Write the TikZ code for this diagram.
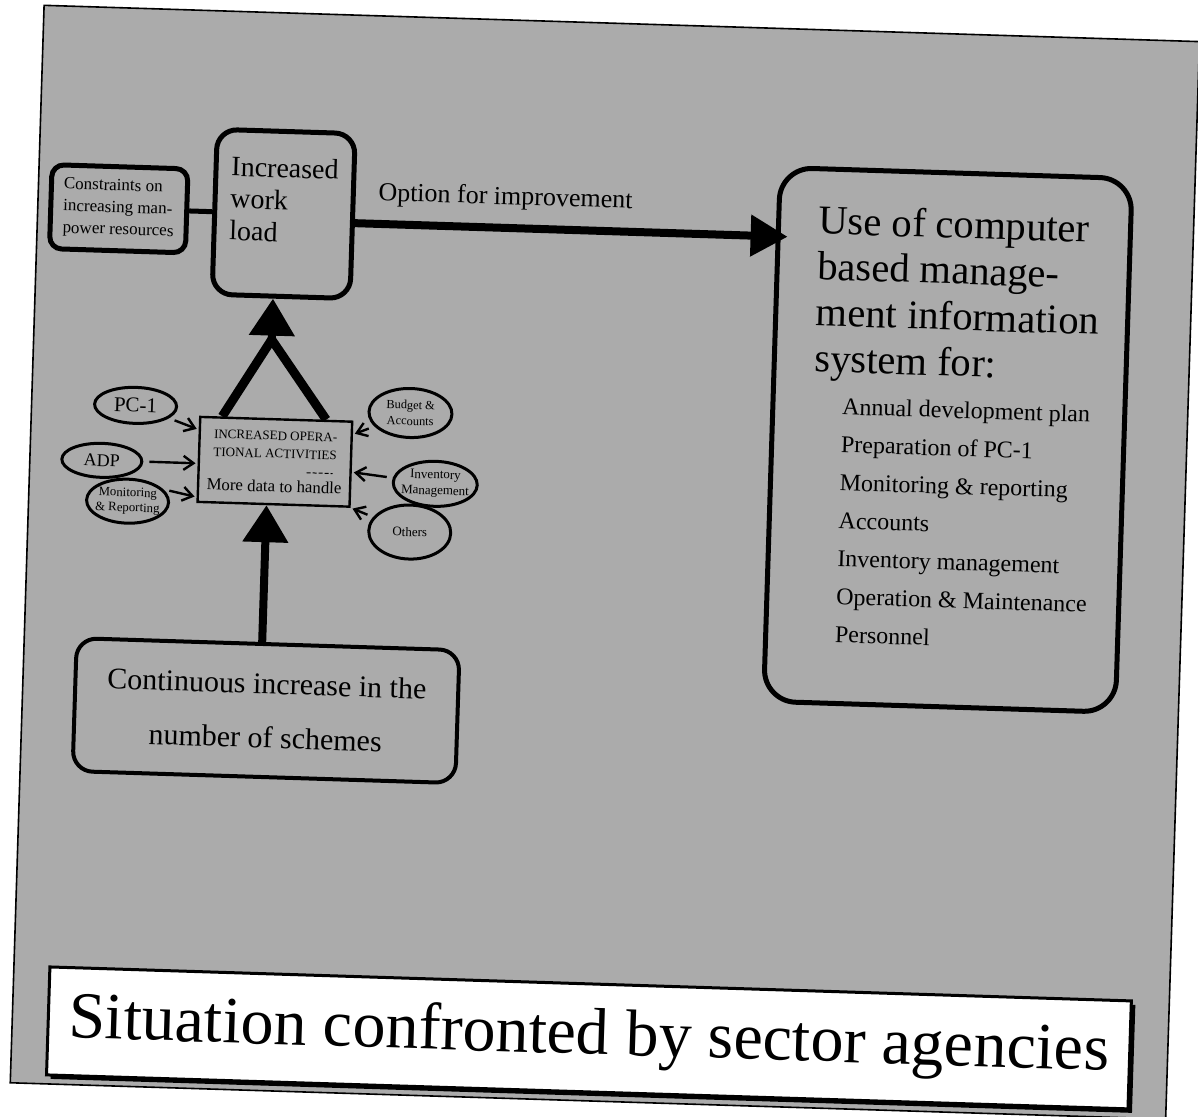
\documentclass[tikz,border=0pt]{standalone}
\usepackage{fontspec}
\setmainfont{Liberation Serif}
\usetikzlibrary{arrows.meta,shapes.geometric,shadows}

\begin{document}
\begin{tikzpicture}[x=0.5pt,y=-0.5pt,
  roundbox/.style={draw,line width=2.5pt,inner sep=0pt},
  oval/.style={draw,ellipse,line width=1.5pt,inner xsep=-3pt,inner ysep=0pt,align=center},
  feed/.style={line width=1.2pt,-{Straight Barb[length=5pt,width=7pt]},shorten <=3pt,shorten >=1pt},
  fat/.style={line width=4pt,-{Triangle[length=18.5pt,width=22pt]}},
  item/.style={anchor=base west,inner sep=0pt,font=\fontsize{12}{14}\selectfont}]
% Fix the page size
\useasboundingbox (0,0) rectangle (1198,1117);
\fill[white] (0,0) rectangle (1198,1117);
\begin{scope}[rotate around={-1.8:(599,558)},transform shape]
% Draw the shaded sheet
\draw[line width=0.8pt,fill=black!33] (27,23) rectangle (1183,1101);
% Draw the boxes at the top
\node[roundbox,minimum width=68pt,minimum height=42pt,rounded corners=6pt,align=left,font=\fontsize{8.5}{11}\selectfont] (cons) at (108,224) {Constraints on\\increasing man-\\power resources};
\node[roundbox,minimum width=69pt,minimum height=82.5pt,rounded corners=10pt,align=left,font=\fontsize{14}{16}\selectfont,text depth=14pt] (work) at (273,224) {Increased\\work\\load};
\draw[line width=2.5pt] (cons.east) -- (work.west);
% Draw the information system box
\node[roundbox,minimum width=176pt,minimum height=267pt,rounded corners=16pt] (info) at (944,429) {};
\node[anchor=north west,inner sep=0pt,align=left,font=\fontsize{20.3}{23}\selectfont] (head) at (808,198) {Use of computer\\based manage-\\ment information\\system for:};
\foreach \txt [count=\i] in {Annual development plan,Preparation of PC-1,Monitoring \& reporting,Accounts,Inventory management,Operation \& Maintenance,Personnel}
  \node[item] (use\i) at (837,{407+38*(\i-1)}) {\txt};
% Draw the improvement arrow
\draw[fat,-{Triangle[length=18.5pt,width=20pt]}] ([yshift=-3.5pt]work.east) -- ([yshift=-3.5pt,xshift=6pt]work.east -| info.west)
  node[pos=0,anchor=base west,xshift=6pt,yshift=11.7pt,font=\fontsize{13}{15}\selectfont] (opt) {Option for improvement};
% Draw the operations box
\node[draw,line width=1.2pt,minimum width=76pt,minimum height=42.5pt,inner sep=0pt,align=center,font=\fontsize{6.5}{9}\selectfont] (ops) at (272,472) {INCREASED OPERA-\\TIONAL ACTIVITIES\\[8pt]\fontsize{8.4}{10}\selectfont More data to handle};
\draw[line width=0.5pt,dash pattern=on 2pt off 1pt] (ops.center) ++(32,10) -- ++(26,0);
% Draw the inputs
\node[oval,minimum width=41pt,minimum height=18pt,font=\fontsize{10.5}{12}\selectfont] (pc) at (131,420) {PC-1};
\node[oval,minimum width=40pt,minimum height=17pt,font=\fontsize{9}{11}\selectfont] (adp) at (99,476) {ADP};
\node[oval,minimum width=41pt,minimum height=22pt,font=\fontsize{6.4}{7.5}\selectfont] (mon) at (126,516) {Monitoring\\\& Reporting};
\node[oval,minimum width=41.5pt,minimum height=24.5pt,font=\fontsize{6.2}{8}\selectfont] (bud) at (406,419) {Budget \&\\Accounts};
\node[oval,minimum width=42pt,minimum height=22.5pt,font=\fontsize{6.5}{8}\selectfont] (inv) at (433,489) {Inventory\\Management};
\node[oval,minimum width=41pt,minimum height=27pt,font=\fontsize{6.5}{8}\selectfont] (oth) at (409,538) {Others};
\draw[feed] (pc) -- ([yshift=-7pt]ops.north west);
\draw[feed] (adp) -- (adp -| ops.west);
\draw[feed] (mon.20) -- ([yshift=3pt]ops.south west);
\draw[feed] (bud) -- ([yshift=-7pt]ops.north east);
\draw[feed] (inv) -- ([yshift=-4pt]ops.east);
\draw[feed] (oth) -- (ops.south east);
% Draw the lower box and the thick arrows
\node[roundbox,line width=2pt,minimum width=191.5pt,minimum height=66.5pt,rounded corners=10pt,align=center,font=\fontsize{15}{27}\selectfont] (cont) at (271,721) {Continuous increase in the\\number of schemes};
\coordinate (meet) at (265,350);
\draw[fat] (cont.north -| meet) -- (ops.south -| meet);
\draw[line width=4.5pt,line join=round] ([xshift=-27pt]ops.north) -- (meet) -- ([xshift=25pt]ops.north);
\draw[fat] (meet) -- (meet |- work.south);
% Draw the title
\node[draw,fill=white,line width=1.5pt,minimum width=541pt,minimum height=54pt,inner sep=0pt,font=\fontsize{33}{38}\selectfont,
  drop shadow={shadow xshift=2pt,shadow yshift=-2pt,opacity=1,fill=black}] (title) at (604,1038) {Situation confronted by sector agencies};
\end{scope}
\end{tikzpicture}
\end{document}
